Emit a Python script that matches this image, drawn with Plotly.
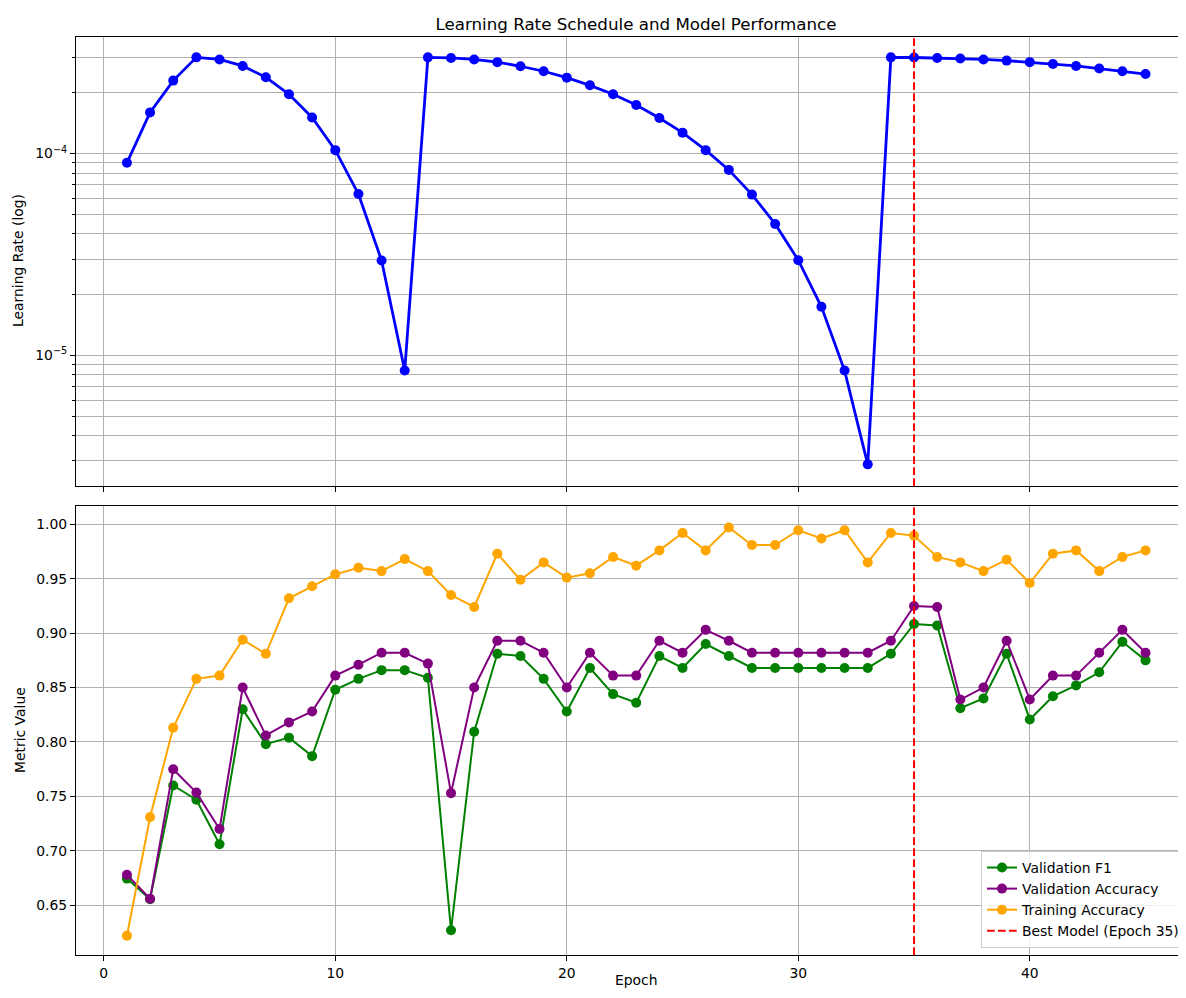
import plotly.graph_objects as go

# ---------------- data ----------------
epochs = list(range(1, 46))

learning_rate = [
    9.0e-5, 1.6e-4, 2.3e-4, 3.0e-4, 2.93e-4, 2.72e-4, 2.39e-4, 1.97e-4, 1.51e-4, 1.04e-4,
    6.3e-5, 2.95e-5, 8.4e-6, 3.0e-4, 2.98e-4, 2.93e-4, 2.84e-4, 2.71e-4, 2.56e-4, 2.38e-4,
    2.18e-4, 1.97e-4, 1.74e-4, 1.50e-4, 1.27e-4, 1.04e-4, 8.3e-5, 6.26e-5, 4.48e-5, 2.96e-5,
    1.74e-5, 8.4e-6, 2.88e-6, 3.0e-4, 2.995e-4, 2.98e-4, 2.96e-4, 2.93e-4, 2.89e-4, 2.84e-4,
    2.78e-4, 2.72e-4, 2.64e-4, 2.56e-4, 2.48e-4,
]

val_f1 = [
    0.6745, 0.6555, 0.760, 0.747, 0.706, 0.830, 0.798, 0.804, 0.787, 0.848,
    0.858, 0.866, 0.866, 0.859, 0.627, 0.8095, 0.881, 0.879, 0.858, 0.828,
    0.868, 0.844, 0.836, 0.879, 0.868, 0.890, 0.879, 0.868, 0.868, 0.868,
    0.868, 0.868, 0.868, 0.881, 0.9084, 0.907, 0.831, 0.840, 0.881, 0.8206,
    0.842, 0.852, 0.864, 0.892, 0.875,
]

val_acc = [
    0.678, 0.656, 0.775, 0.7535, 0.720, 0.850, 0.806, 0.818, 0.828, 0.861,
    0.871, 0.882, 0.882, 0.872, 0.753, 0.850, 0.893, 0.893, 0.882, 0.850,
    0.882, 0.861, 0.861, 0.893, 0.882, 0.903, 0.893, 0.882, 0.882, 0.882,
    0.882, 0.882, 0.882, 0.893, 0.925, 0.924, 0.839, 0.850, 0.893, 0.839,
    0.861, 0.861, 0.882, 0.903, 0.882,
]

train_acc = [
    0.622, 0.731, 0.813, 0.858, 0.861, 0.894, 0.881, 0.932, 0.943, 0.954,
    0.960, 0.957, 0.968, 0.957, 0.935, 0.924, 0.973, 0.949, 0.965, 0.951,
    0.955, 0.970, 0.962, 0.976, 0.992, 0.976, 0.997, 0.981, 0.981, 0.9945,
    0.987, 0.9945, 0.965, 0.992, 0.9896, 0.970, 0.965, 0.957, 0.9675, 0.946,
    0.973, 0.976, 0.957, 0.970, 0.976,
]

best_epoch = epochs[max(range(len(val_f1)), key=lambda i: val_f1[i])]

lr_major_ticks = [1e-5, 1e-4]
lr_major_labels = ["10<sup>\u22125</sup>", "10<sup>\u22124</sup>"]
lr_minor_ticks = [3e-6, 4e-6, 5e-6, 6e-6, 7e-6, 8e-6, 9e-6,
                  2e-5, 3e-5, 4e-5, 5e-5, 6e-5, 7e-5, 8e-5, 9e-5,
                  2e-4, 3e-4]
metric_ticks = [0.65, 0.70, 0.75, 0.80, 0.85, 0.90, 0.95, 1.00]
epoch_ticks = [0, 10, 20, 30, 40]

# ---------------- figure ----------------
# The page body has an 8px margin, so figure coords = page coords - 8.
FONT = "DejaVu Sans"
OFF = 8
W, H = 1170, 982
L = 76 - OFF
T = 37 - OFF
PLOT_BOTTOM = 955 - OFF
B = H - PLOT_BOTTOM
R = 0
plot_w = W - L - R
plot_h = PLOT_BOTTOM - T  # 918

top_dom = [(955 - 486) / plot_h, 1.0]
bot_dom = [0.0, (955 - 506) / plot_h]

fig = go.Figure()

fig.add_trace(go.Scatter(
    x=epochs, y=learning_rate, mode="lines+markers",
    line=dict(color="blue", width=2.8),
    marker=dict(color="blue", size=10),
    xaxis="x", yaxis="y", showlegend=False, name="Learning Rate",
))

fig.add_trace(go.Scatter(
    x=epochs, y=val_f1, mode="lines+markers", name="Validation F1",
    line=dict(color="green", width=2), marker=dict(color="green", size=10),
    xaxis="x2", yaxis="y2",
))
fig.add_trace(go.Scatter(
    x=epochs, y=val_acc, mode="lines+markers", name="Validation Accuracy",
    line=dict(color="purple", width=2), marker=dict(color="purple", size=10),
    xaxis="x2", yaxis="y2",
))
fig.add_trace(go.Scatter(
    x=epochs, y=train_acc, mode="lines+markers", name="Training Accuracy",
    line=dict(color="orange", width=2), marker=dict(color="orange", size=10),
    xaxis="x2", yaxis="y2",
))
fig.add_trace(go.Scatter(
    x=[None], y=[None], mode="lines", name=f"Best Model (Epoch {best_epoch})",
    line=dict(color="red", width=2, dash="7.7px,3.3px"),
    xaxis="x2", yaxis="y2",
))

for xr, yr in [("x", "y domain"), ("x2", "y2 domain")]:
    fig.add_shape(type="line", xref=xr, yref=yr,
                  x0=best_epoch, x1=best_epoch, y0=0, y1=1,
                  line=dict(color="red", width=2, dash="7.7px,3.3px"), layer="above")

axis_common = dict(
    showline=True, linecolor="black", linewidth=1,
    ticks="outside", ticklen=5, tickwidth=1, tickcolor="black",
    showgrid=True, gridcolor="#b0b0b0", gridwidth=1,
    zeroline=False,
    tickfont=dict(family=FONT, size=13.9, color="black"),
)

xrange = [-1.2, -1.2 + plot_w / 23.15]

def px_x(page_x):
    return (page_x - OFF - L) / plot_w

def px_y(page_y):
    return 1 - (page_y - OFF - T) / plot_h

fig.update_layout(
    width=W, height=H,
    margin=dict(l=L, r=R, t=T, b=B, autoexpand=False),
    paper_bgcolor="white", plot_bgcolor="white",
    font=dict(family=FONT, size=13.9, color="black"),
    title=dict(text="Learning Rate Schedule and Model Performance",
               font=dict(family=FONT, size=16.7, color="black"),
               x=(636 - OFF) / W, xref="container", xanchor="center",
               y=1 - (24 - OFF) / H, yref="container", yanchor="middle"),
    xaxis=dict(axis_common, mirror=True, domain=[0, 1], anchor="y", range=xrange,
               tickvals=epoch_ticks, showticklabels=False, matches="x2"),
    yaxis=dict(axis_common, mirror=False, domain=top_dom, anchor="x", type="log",
               range=[-5.648, -3.422],
               tickvals=lr_major_ticks, ticktext=lr_major_labels,
               minor=dict(tickvals=lr_minor_ticks, showgrid=True,
                          gridcolor="#b0b0b0", gridwidth=1,
                          ticks="outside", ticklen=3, tickcolor="black")),
    xaxis2=dict(axis_common, mirror=True, domain=[0, 1], anchor="y2", range=xrange,
                tickvals=epoch_ticks, ticktext=[str(t) for t in epoch_ticks]),
    yaxis2=dict(axis_common, mirror=False, domain=bot_dom, anchor="x2",
                range=[0.6043, 1.0168],
                tickvals=metric_ticks, ticktext=[f"{t:.2f}" for t in metric_ticks]),
    legend=dict(x=px_x(981), y=px_y(948),
                xanchor="left", yanchor="bottom",
                bgcolor="rgba(255,255,255,0.8)", bordercolor="#cccccc", borderwidth=1,
                font=dict(family=FONT, size=13.9, color="black"),
                tracegroupgap=0, itemwidth=30),
    annotations=[
        dict(text="Learning Rate (log)", xref="paper", yref="paper",
             x=px_x(18), y=px_y(261),
             textangle=-90, showarrow=False, xanchor="center", yanchor="middle",
             font=dict(family=FONT, size=13.9, color="black")),
        dict(text="Metric Value", xref="paper", yref="paper",
             x=px_x(20), y=px_y(730),
             textangle=-90, showarrow=False, xanchor="center", yanchor="middle",
             font=dict(family=FONT, size=13.9, color="black")),
        dict(text="Epoch", xref="paper", yref="paper",
             x=px_x(636), y=px_y(980),
             showarrow=False, xanchor="center", yanchor="middle",
             font=dict(family=FONT, size=13.9, color="black")),
    ],
)

fig.write_html("out.html")
